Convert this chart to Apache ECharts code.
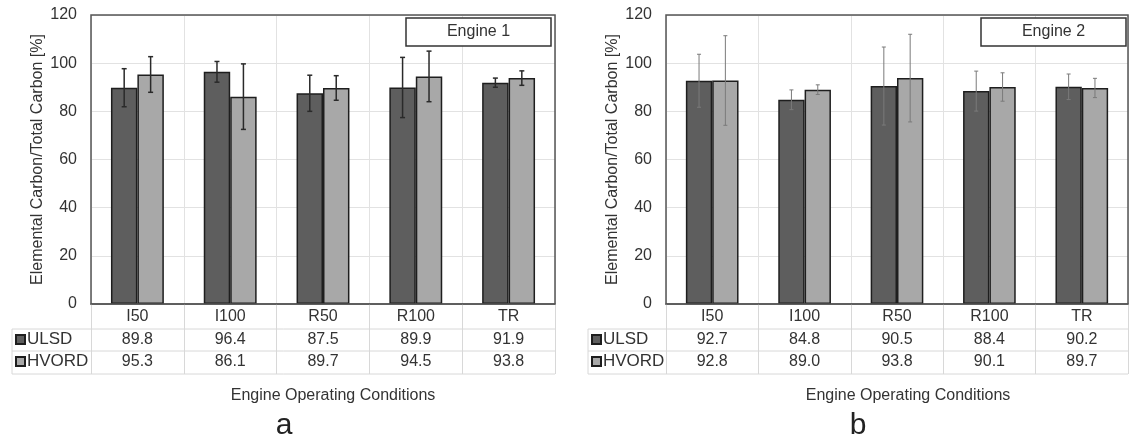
<!DOCTYPE html>
<html>
<head>
<meta charset="utf-8">
<script src="https://cdn.jsdelivr.net/npm/echarts@6/dist/echarts.min.js"></script>
<style>html,body{margin:0;padding:0;background:#fff;}#c{width:1131px;height:443px;}</style>
</head>
<body>
<div id="c"></div>
<script>
// ---------- data ----------
const categories = ['I50', 'I100', 'R50', 'R100', 'TR'];
const seriesNames = ['ULSD', 'HVORD'];
const engine1Ulsd = [89.8, 96.4, 87.5, 89.9, 91.9];
const engine1Hvord = [95.3, 86.1, 89.7, 94.5, 93.8];
const engine2Ulsd = [92.7, 84.8, 90.5, 88.4, 90.2];
const engine2Hvord = [92.8, 89.0, 93.8, 90.1, 89.7];
// error bar half-widths
const engine1UlsdErr = [7.9, 4.3, 7.5, 12.5, 1.9];
const engine1HvordErr = [7.4, 13.6, 5.1, 10.5, 3.0];
const engine2UlsdErr = [11.0, 4.1, 16.2, 8.3, 5.3];
const engine2HvordErr = [18.6, 2.0, 18.2, 5.9, 4.0];
const yMin = 0, yMax = 120, yStep = 20;
const panelTitles = ['Engine 1', 'Engine 2'];
const panelLetters = ['a', 'b'];
const xAxisTitle = 'Engine Operating Conditions';
const yAxisTitle = 'Elemental Carbon/Total Carbon [%]';

// ---------- layout ----------
const W = 1131, H = 443;
const FONT = "'Liberation Sans', Arial, sans-serif";
const TXT = '#333333';
const DARK = '#5e5e5e', LIGHT = '#a8a8a8', EDGE = '#1e1e1e';
const GRIDC = '#e2e2e2', TABLEC = '#d8d8d8', FRAME = '#555555';
const GAP = 0.43;
const panels = [
  {left: 91, right: 555, top: 15, zero: 304, tableLeft: 12, rows: [329, 351, 374], legendLeft: 15, titleX: 333, letterX: 284,
   boxX: 406, boxW: 145, ulsd: engine1Ulsd, hvord: engine1Hvord, ue: engine1UlsdErr, he: engine1HvordErr,
   err: {color: '#2a2a2a', width: 1.5, cap: 2.5}},
  {left: 666, right: 1128, top: 15, zero: 304, tableLeft: 588, rows: [329, 351, 374], legendLeft: 591, titleX: 908, letterX: 858,
   boxX: 981, boxW: 145, ulsd: engine2Ulsd, hvord: engine2Hvord, ue: engine2UlsdErr, he: engine2HvordErr,
   err: {color: '#7a7a7a', width: 1, cap: 2}}
];

function errRender(side, st) {
  return function (params, api) {
    const i = api.value(0);
    const lo = api.coord([i, api.value(1)]);
    const hi = api.coord([i, api.value(2)]);
    const band = api.size([1, 0])[0];
    const bw = band * (1 - GAP) / 2;
    const x = lo[0] + side * bw / 2;
    const s = {stroke: st.color, lineWidth: st.width};
    return {type: 'group', children: [
      {type: 'line', shape: {x1: x, y1: lo[1], x2: x, y2: hi[1]}, style: s},
      {type: 'line', shape: {x1: x - st.cap, y1: hi[1], x2: x + st.cap, y2: hi[1]}, style: s},
      {type: 'line', shape: {x1: x - st.cap, y1: lo[1], x2: x + st.cap, y2: lo[1]}, style: s}
    ]};
  };
}

const grid = [], xAxis = [], yAxis = [], series = [], legend = [], graphic = [];
panels.forEach((p, k) => {
  grid.push({left: p.left, right: W - p.right, top: p.top, bottom: H - p.zero,
    show: true, borderColor: FRAME, borderWidth: 1.5, backgroundColor: 'transparent', z: 3});
  const base = xAxis.length;
  // category row
  xAxis.push({type: 'category', gridIndex: k, data: categories, position: 'bottom',
    axisLine: {show: true, lineStyle: {color: FRAME, width: 1.5}},
    axisTick: {show: true, interval: 0, length: p.rows[2] - p.zero, lineStyle: {color: TABLEC}},
    splitLine: {show: true, interval: 0, lineStyle: {color: GRIDC}},
    axisLabel: {interval: 0, margin: 5, fontSize: 16, color: TXT, fontFamily: FONT}});
  // ULSD row
  xAxis.push({type: 'category', gridIndex: k, data: categories, position: 'bottom', offset: p.rows[0] - p.zero,
    axisLine: {show: false}, axisTick: {show: false},
    axisLabel: {interval: 0, margin: 3, fontSize: 16, color: TXT, fontFamily: FONT,
      formatter: (v, i) => p.ulsd[i].toFixed(1)}});
  // HVORD row
  xAxis.push({type: 'category', gridIndex: k, data: categories, position: 'bottom', offset: p.rows[1] - p.zero,
    axisLine: {show: false}, axisTick: {show: false},
    axisLabel: {interval: 0, margin: 3, fontSize: 16, color: TXT, fontFamily: FONT,
      formatter: (v, i) => p.hvord[i].toFixed(1)}});
  yAxis.push({type: 'value', gridIndex: k, min: yMin, max: yMax, interval: yStep,
    axisLine: {show: false}, axisTick: {show: false},
    splitLine: {show: true, lineStyle: {color: GRIDC}},
    axisLabel: {margin: 14, fontSize: 16, color: TXT, fontFamily: FONT},
    name: yAxisTitle, nameLocation: 'middle', nameGap: 45,
    nameTextStyle: {fontSize: 16, color: TXT, fontFamily: FONT}});
  const common = {type: 'bar', xAxisIndex: base, yAxisIndex: k, barGap: '0%', barCategoryGap: (GAP * 100) + '%', z: 2};
  series.push(Object.assign({}, common, {name: seriesNames[0], data: p.ulsd,
    itemStyle: {color: DARK, borderColor: EDGE, borderWidth: 1.5}}));
  series.push(Object.assign({}, common, {name: seriesNames[1], data: p.hvord,
    itemStyle: {color: LIGHT, borderColor: EDGE, borderWidth: 1.5}}));
  series.push({type: 'custom', name: 'errU' + k, xAxisIndex: base, yAxisIndex: k, z: 4,
    renderItem: errRender(-1, p.err), encode: {x: 0, y: [1, 2]},
    data: categories.map((c, i) => [i, p.ulsd[i] - p.ue[i], p.ulsd[i] + p.ue[i]])});
  series.push({type: 'custom', name: 'errH' + k, xAxisIndex: base, yAxisIndex: k, z: 4,
    renderItem: errRender(1, p.err), encode: {x: 0, y: [1, 2]},
    data: categories.map((c, i) => [i, p.hvord[i] - p.he[i], p.hvord[i] + p.he[i]])});
  legend.push({data: seriesNames, orient: 'vertical', left: p.legendLeft, top: 331, padding: 0, icon: 'rect',
    itemWidth: 9, itemHeight: 9, itemGap: 5, selectedMode: false,
    textStyle: {fontSize: 17, color: TXT, fontFamily: FONT, padding: [0, 0, 0, -3]}});
  // table rules
  p.rows.forEach(y => graphic.push({type: 'line', silent: true, z: 1,
    shape: {x1: p.tableLeft, y1: y, x2: p.right, y2: y}, style: {stroke: TABLEC, lineWidth: 1}}));
  graphic.push({type: 'line', silent: true, z: 1,
    shape: {x1: p.tableLeft, y1: p.rows[0], x2: p.tableLeft, y2: p.rows[2]}, style: {stroke: TABLEC, lineWidth: 1}});
  // engine box
  graphic.push({type: 'rect', z: 10, shape: {x: p.boxX, y: 18, width: p.boxW, height: 28},
    style: {fill: '#fff', stroke: '#333', lineWidth: 1.5}});
  graphic.push({type: 'text', z: 11, x: p.boxX + p.boxW / 2, y: 32,
    style: {text: panelTitles[k], fontSize: 16, fill: TXT, fontFamily: FONT, align: 'center', verticalAlign: 'middle'}});
  graphic.push({type: 'text', x: p.titleX, y: 396,
    style: {text: xAxisTitle, fontSize: 16, fill: TXT, fontFamily: FONT, align: 'center', verticalAlign: 'middle'}});
  graphic.push({type: 'text', x: p.letterX, y: 426,
    style: {text: panelLetters[k], fontSize: 30, fill: '#222', fontFamily: FONT, align: 'center', verticalAlign: 'middle'}});
});

const chart = echarts.init(document.getElementById('c'), null, {renderer: 'canvas'});
chart.setOption({
  animation: false,
  backgroundColor: '#fff',
  textStyle: {fontFamily: FONT},
  grid, xAxis, yAxis, series, legend, graphic
});
</script>
</body>
</html>
